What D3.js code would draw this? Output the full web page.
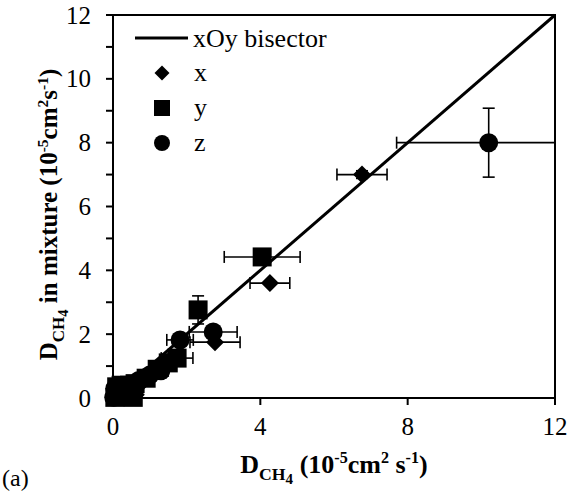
<!DOCTYPE html>
<html>
<head>
<meta charset="utf-8">
<script src="https://cdn.jsdelivr.net/npm/d3@7"></script>
<style>
  html, body { margin: 0; padding: 0; background: #fff; }
  svg { display: block; }
  text { font-family: "Liberation Serif", "Times New Roman", Times, serif; fill: #000; }
</style>
</head>
<body>
<svg id="chart" width="570" height="492"></svg>
<script>
// Axis ticks
const xTicks = [0, 4, 8, 12];
const yTicks = [0, 2, 4, 6, 8, 10, 12];
const yMinorTicks = [1, 3, 5, 7, 9, 11];

// Reference line y = x
const bisectorX = [0, 12];

// Series "x" (diamonds)
const seriesXx = [0.04, 0.1, 0.18, 0.3, 0.45, 0.62, 0.75, 0.82, 1.05, 1.3, 1.55, 2.77, 4.26, 6.76];
const seriesXy = [0.03, 0.08, 0.12, 0.05, 0.3, 0.1, 0.45, 0.6, 0.8, 0.98, 1.2, 1.75, 3.6, 7.0];
const seriesXex = [0, 0, 0, 0, 0, 0, 0, 0, 0.12, 0.18, 0.22, 0.68, 0.54, 0.68];
const seriesXey = [0, 0, 0, 0, 0, 0, 0, 0, 0, 0, 0, 0, 0, 0.12];

// Series "y" (squares)
const seriesYx = [0.05, 0.1, 0.12, 0.22, 0.32, 0.45, 0.55, 0.6, 0.9, 1.2, 1.5, 1.74, 2.31, 4.05];
const seriesYy = [0.02, 0.35, 0.06, 0.4, 0.38, 0.4, 0.02, 0.45, 0.62, 0.9, 1.1, 1.25, 2.76, 4.42];
const seriesYex = [0, 0, 0, 0, 0, 0, 0, 0, 0, 0.15, 0.2, 0.43, 0, 1.03];
const seriesYey = [0, 0, 0, 0, 0, 0, 0, 0, 0, 0, 0, 0, 0.44, 0];

// Series "z" (circles)
const seriesZx = [0.02, 0.05, 0.08, 0.15, 0.3, 0.4, 0.5, 0.7, 1.0, 1.3, 1.82, 2.72, 10.2];
const seriesZy = [0.02, 0.3, 0.1, 0.2, 0.28, 0.08, 0.42, 0.55, 0.72, 0.85, 1.82, 2.07, 8.0];
const seriesZex = [0, 0, 0, 0, 0, 0, 0, 0, 0, 0.2, 0.36, 0.65, 2.5];
const seriesZey = [0, 0, 0, 0, 0, 0, 0, 0, 0, 0, 0, 0, 1.08];

const legendLabels = ["xOy bisector", "x", "y", "z"];

const svg = d3.select("#chart");
const margin = { left: 113, top: 15, right: 15, bottom: 94 };
const W = 570 - margin.left - margin.right;
const H = 492 - margin.top - margin.bottom;

const x = d3.scaleLinear().domain([0, 12]).range([margin.left, margin.left + W]);
const y = d3.scaleLinear().domain([0, 12]).range([margin.top + H, margin.top]);

// Clip marks to the plotting frame
svg.append("defs").append("clipPath").attr("id", "plotClip")
  .append("rect").attr("x", x(0) - 12).attr("y", y(12)).attr("width", W + 12).attr("height", H + 12);

const plot = svg.append("g").attr("clip-path", "url(#plotClip)");

function pack(xs, ys, exs, eys) {
  return xs.map((v, i) => ({ x: v, y: ys[i], ex: exs[i], ey: eys[i] }));
}
const series = [
  { name: "x", shape: "diamond", data: pack(seriesXx, seriesXy, seriesXex, seriesXey) },
  { name: "y", shape: "square", data: pack(seriesYx, seriesYy, seriesYex, seriesYey) },
  { name: "z", shape: "circle", data: pack(seriesZx, seriesZy, seriesZex, seriesZey) }
];

// Error bars (clipped to the frame on the right)
svg.select("defs").append("clipPath").attr("id", "errClip")
  .append("rect").attr("x", 0).attr("y", y(12)).attr("width", x(12)).attr("height", 492);
const errLayer = svg.append("g").attr("clip-path", "url(#errClip)");
const cap = 6;
series.forEach(s => {
  s.data.forEach(d => {
    const g = errLayer.append("g").attr("stroke", "#000").attr("stroke-width", 1.6).attr("fill", "none");
    if (d.ex > 0) {
      const x0 = x(d.x - d.ex), x1 = x(d.x + d.ex), yy = y(d.y);
      g.append("line").attr("x1", x0).attr("x2", x1).attr("y1", yy).attr("y2", yy);
      g.append("line").attr("x1", x0).attr("x2", x0).attr("y1", yy - cap).attr("y2", yy + cap);
      g.append("line").attr("x1", x1).attr("x2", x1).attr("y1", yy - cap).attr("y2", yy + cap);
    }
    if (d.ey > 0) {
      const y0 = y(d.y - d.ey), y1 = y(d.y + d.ey), xx = x(d.x);
      g.append("line").attr("x1", xx).attr("x2", xx).attr("y1", y0).attr("y2", y1);
      g.append("line").attr("x1", xx - cap).attr("x2", xx + cap).attr("y1", y0).attr("y2", y0);
      g.append("line").attr("x1", xx - cap).attr("x2", xx + cap).attr("y1", y1).attr("y2", y1);
    }
  });
});

// Bisector line
svg.append("line")
  .attr("x1", x(bisectorX[0])).attr("y1", y(bisectorX[0]))
  .attr("x2", x(bisectorX[1])).attr("y2", y(bisectorX[1]))
  .attr("stroke", "#000").attr("stroke-width", 3);

// Marker shapes
function marker(sel, shape, size) {
  if (shape === "circle") {
    sel.append("circle").attr("r", size).attr("fill", "#000");
  } else if (shape === "square") {
    sel.append("rect").attr("x", -size).attr("y", -size)
      .attr("width", 2 * size).attr("height", 2 * size).attr("fill", "#000");
  } else {
    sel.append("path")
      .attr("d", `M0,${-size}L${size},0L0,${size}L${-size},0Z`).attr("fill", "#000");
  }
}
const markerSize = { diamond: 9, square: 9.5, circle: 9.5 };

series.forEach(s => {
  s.data.forEach(d => {
    const g = plot.append("g").attr("transform", `translate(${x(d.x)},${y(d.y)})`);
    marker(g, s.shape, markerSize[s.shape]);
  });
});

// Frame
const frame = svg.append("g").attr("stroke", "#000").attr("fill", "none");
frame.append("rect").attr("x", x(0)).attr("y", y(12)).attr("width", W).attr("height", H)
  .attr("stroke-width", 2);

// Ticks
const tickLen = 7;
xTicks.forEach(t => {
  frame.append("line").attr("x1", x(t)).attr("x2", x(t))
    .attr("y1", y(0)).attr("y2", y(0) + tickLen).attr("stroke-width", 2);
});
yTicks.concat(yMinorTicks).forEach(t => {
  frame.append("line").attr("x1", x(0) - tickLen).attr("x2", x(0))
    .attr("y1", y(t)).attr("y2", y(t)).attr("stroke-width", 2);
});

// Tick labels
const tickFont = 25;
svg.append("g").selectAll("text").data(xTicks).join("text")
  .attr("x", d => x(d)).attr("y", y(0) + 37)
  .attr("text-anchor", "middle").attr("font-size", tickFont)
  .text(d => d);
svg.append("g").selectAll("text").data(yTicks).join("text")
  .attr("x", x(0) - 22).attr("y", d => y(d)).attr("dy", "0.34em")
  .attr("text-anchor", "end").attr("font-size", tickFont)
  .text(d => d);

// Rich text helper: segments of [text, kind] where kind is "n" (normal), "sub", "subsub", "sup"
function richText(parent, segs, size) {
  const t = parent.append("text").attr("font-size", size).attr("font-weight", "bold");
  let level = 0;
  const offs = { n: 0, sub: 0.26, subsub: 0.42, sup: -0.38 };
  const sizes = { n: 1, sub: 0.68, subsub: 0.58, sup: 0.62 };
  segs.forEach(([str, kind]) => {
    const target = offs[kind] * size;
    t.append("tspan").attr("dy", target - level).attr("font-size", size * sizes[kind]).text(str);
    level = target;
  });
  return t;
}

// X axis title
const xTitle = svg.append("g").attr("transform", `translate(${(x(0) + x(12)) / 2},473)`);
richText(xTitle, [["D", "n"], ["CH", "sub"], ["4", "subsub"], [" (10", "n"], ["-5", "sup"],
  ["cm", "n"], ["2", "sup"], [" s", "n"], ["-1", "sup"], [")", "n"]], 26)
  .attr("text-anchor", "middle");

// Y axis title
const yTitle = svg.append("g").attr("transform", `translate(57,${(y(0) + y(12)) / 2 + 8}) rotate(-90)`);
richText(yTitle, [["D", "n"], ["CH", "sub"], ["4", "subsub"], [" in mixture  (10", "n"], ["-5", "sup"],
  ["cm", "n"], ["2", "sup"], ["s", "n"], ["-1", "sup"], [")", "n"]], 25)
  .attr("text-anchor", "middle");

// Panel tag
svg.append("text").attr("x", 2).attr("y", 486).attr("font-size", 24).text("(a)");

// Legend
const leg = svg.append("g");
const legFont = 26;
leg.append("line").attr("x1", 135).attr("x2", 188).attr("y1", 38).attr("y2", 38)
  .attr("stroke", "#000").attr("stroke-width", 3);
leg.append("text").attr("x", 193).attr("y", 38).attr("dy", "0.34em")
  .attr("font-size", legFont).text(legendLabels[0]);
const legShapes = ["diamond", "square", "circle"];
const legSize = { diamond: 7.5, square: 8, circle: 8 };
legShapes.forEach((s, i) => {
  const cy = 73 + i * 35;
  const g = leg.append("g").attr("transform", `translate(162,${cy})`);
  marker(g, s, legSize[s]);
  leg.append("text").attr("x", 194).attr("y", cy).attr("dy", "0.3em")
    .attr("font-size", legFont).text(legendLabels[i + 1]);
});
</script>
</body>
</html>
